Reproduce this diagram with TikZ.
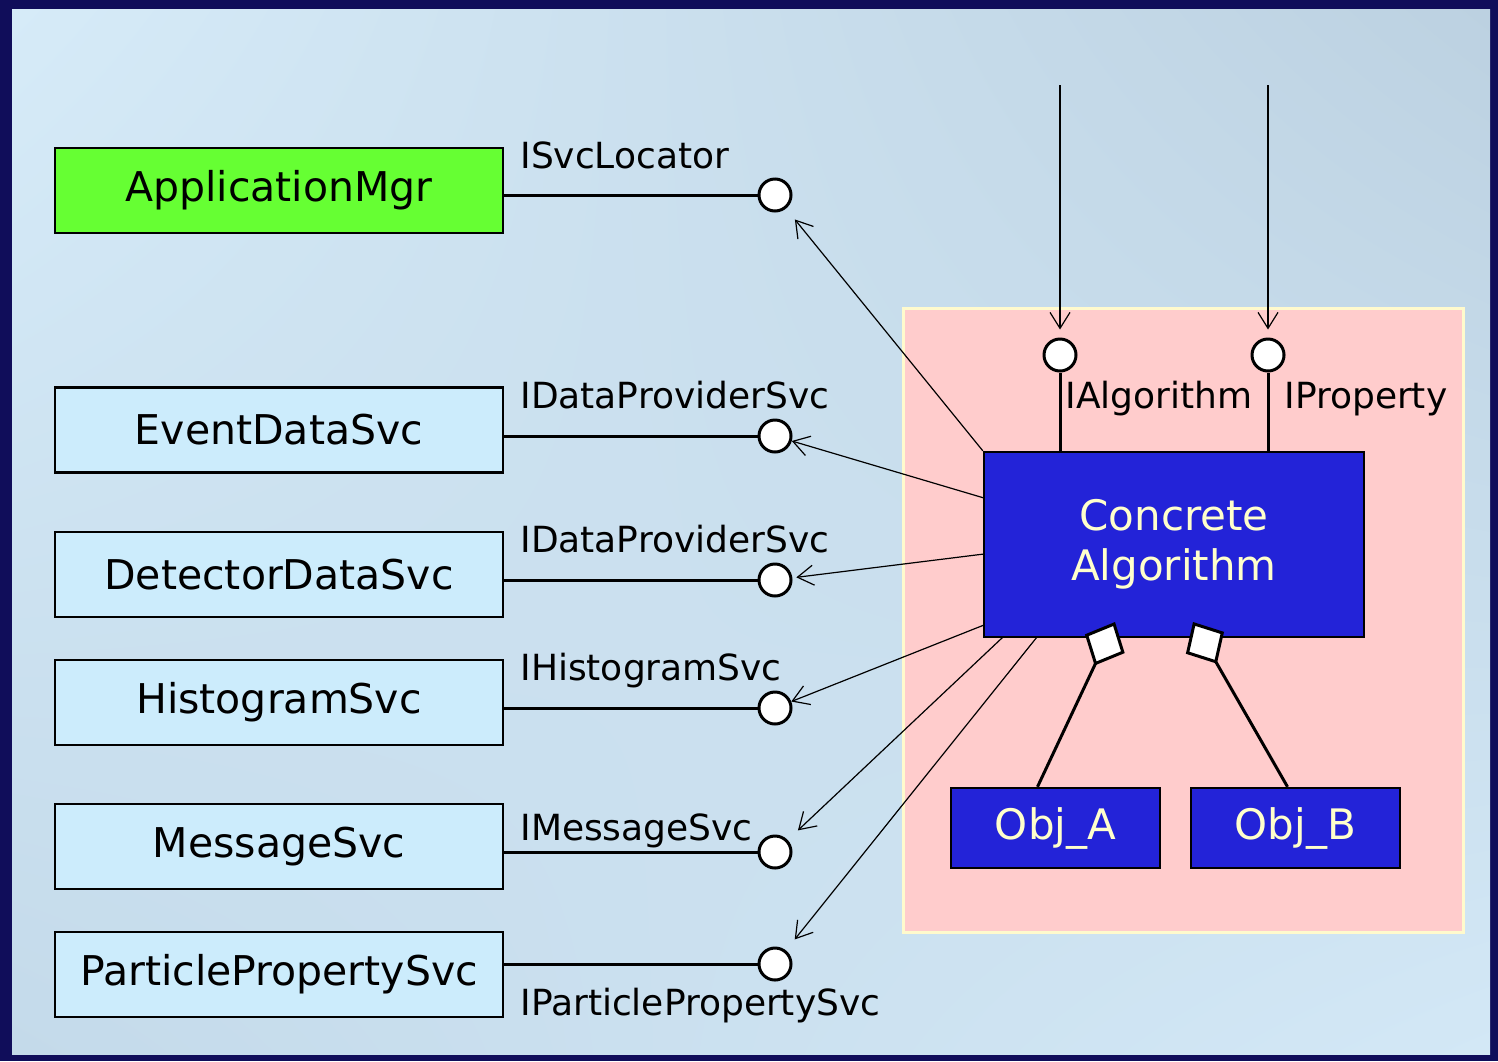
\documentclass[tikz,border=0pt]{standalone}
\usepackage{fontspec}
\setmainfont{DejaVu Sans}
\usetikzlibrary{arrows.meta,calc,shadings}
\definecolor{frame}{RGB}{16,13,90}
\definecolor{bgA}{RGB}{214,235,248}
\definecolor{bgB}{RGB}{188,209,225}
\definecolor{bgC}{RGB}{196,218,234}
\definecolor{bgD}{RGB}{211,232,246}
\definecolor{mgrgreen}{RGB}{102,255,51}
\definecolor{svcblue}{RGB}{204,236,252}
\definecolor{areapink}{RGB}{255,204,204}
\definecolor{areaedge}{RGB}{255,250,205}
\definecolor{algoblue}{RGB}{35,35,216}
\definecolor{algotext}{RGB}{255,255,204}
\begin{document}
\begin{tikzpicture}[x=0.5pt,y=-0.5pt,
    svc/.style={draw,line width=1.2pt,fill=svcblue,minimum width=224pt,minimum height=42.5pt,inner sep=0pt,font=\fontsize{20.5}{24}\selectfont},
    lolly/.style={circle,draw,fill=white,line width=1.5pt,minimum size=16pt,inner sep=0pt},
    lbl/.style={inner sep=0pt,font=\fontsize{18}{22}\selectfont},
    algobox/.style={draw,line width=1.2pt,fill=algoblue,text=algotext,inner sep=0pt,font=\fontsize{21}{25}\selectfont},
    uses/.style={line width=0.6pt,-{Straight Barb[length=8pt,width=10pt]}},
    owns/.style={line width=1.5pt,-{Diamond[fill=white,length=24pt,width=22pt]}}]
  % frame and background
  \useasboundingbox (0,0) rectangle (1498,1061);
  \fill[frame] (0,0) rectangle (1498,1061);
  \shade[shading=bilinear interpolation,upper left=bgA,upper right=bgB,lower left=bgC,lower right=bgD] (12,9) rectangle (1490,1054);
  \draw[line width=1.5pt,draw=areaedge,fill=areapink] (903,308) rectangle (1463,932);
  % services
  \node[svc,fill=mgrgreen] (mgr) at (279,190.5) {ApplicationMgr};
  \node[svc] (evt) at (279,430) {EventDataSvc};
  \node[svc] (det) at (279,574.5) {DetectorDataSvc};
  \node[svc] (hist) at (279,702.5) {HistogramSvc};
  \node[svc] (msg) at (279,846.5) {MessageSvc};
  \node[svc] (part) at (279,974.5) {ParticlePropertySvc};
  % interfaces
  \node[lolly] (c1) at (775,195) {};
  \node[lolly] (c2) at (775,436) {};
  \node[lolly] (c3) at (775,580) {};
  \node[lolly] (c4) at (775,708) {};
  \node[lolly] (c5) at (775,852) {};
  \node[lolly] (c6) at (775,964) {};
  \begin{scope}[line width=1.5pt]
    \draw (c1 -| mgr.east) -- (c1);
    \draw (c2 -| evt.east) -- (c2);
    \draw (c3 -| det.east) -- (c3);
    \draw (c4 -| hist.east) -- (c4);
    \draw (c5 -| msg.east) -- (c5);
    \draw (c6 -| part.east) -- (c6);
  \end{scope}
  \node[lbl,anchor=base west] (l1) at (520,168) {ISvcLocator};
  \node[lbl,anchor=base west] (l2) at (520,408) {IDataProviderSvc};
  \node[lbl,anchor=base west] (l3) at (520,552) {IDataProviderSvc};
  \node[lbl,anchor=base west] (l4) at (520,680) {IHistogramSvc};
  \node[lbl,anchor=base west] (l5) at (520,840) {IMessageSvc};
  \node[lbl,anchor=base west] (l6) at (520,1015) {IParticlePropertySvc};
  % algorithm
  \node[algobox,minimum width=190pt,minimum height=92.5pt,align=center] (algo) at (1174,544.5) {Concrete\\Algorithm};
  \node[algobox,minimum width=104.5pt,minimum height=40pt] (objA) at (1055.5,828) {Obj\_A};
  \node[algobox,minimum width=104.5pt,minimum height=40pt] (objB) at (1295.5,828) {Obj\_B};
  \node[lolly] (ialg) at (1060,355) {};
  \node[lolly] (iprop) at (1268,355) {};
  \draw[line width=1.5pt] (ialg) -- (ialg |- algo.north);
  \draw[line width=1.5pt] (iprop) -- (iprop |- algo.north);
  \node[lbl,anchor=base west] (la) at (1065,408) {IAlgorithm};
  \node[lbl,anchor=base west] (lp) at (1284,408) {IProperty};
  \coordinate (t1) at (1060,85);
  \coordinate (t2) at (1268,85);
  \draw[uses,shorten >=4pt] (t1) -- (ialg);
  \draw[uses,shorten >=4pt] (t2) -- (iprop);
  % uses
  \coordinate (s2) at (984,498);
  \coordinate (s3) at (984,554);
  \coordinate (s4) at (984,625);
  \coordinate (s5) at (1003,637);
  \coordinate (s6) at (1037,637);
  \draw[uses,shorten >=7pt] (algo.north west) -- (c1);
  \draw[uses] (s2) -- (c2);
  \draw[uses,shorten >=2pt] (s3) -- (c3);
  \draw[uses] (s4) -- (c4);
  \draw[uses,shorten >=7pt] (s5) -- (c5);
  \draw[uses,shorten >=7pt] (s6) -- (c6);
  % aggregation
  \coordinate (da) at (1115,622);
  \coordinate (db) at (1193,622);
  \draw[owns] ($(objA.north)+(-18,0)$) -- (da);
  \draw[owns] ($(objB.north)+(-8,0)$) -- (db);
\end{tikzpicture}
\end{document}
